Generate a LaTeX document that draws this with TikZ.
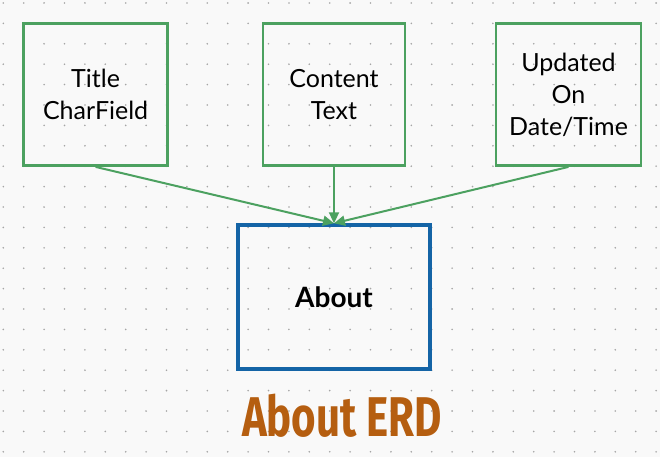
\documentclass[tikz,border=0pt]{standalone}
\usepackage{fontspec}
\setmainfont{Lato}
\newfontfamily\titlefont{Fira Sans}
\usetikzlibrary{arrows.meta}
\definecolor{fieldgreen}{RGB}{76,161,96}
\definecolor{entityblue}{RGB}{20,100,166}
\definecolor{erdbrown}{RGB}{181,94,16}
\definecolor{dotgray}{RGB}{165,165,165}
\definecolor{paper}{RGB}{249,249,249}
\begin{document}
\begin{tikzpicture}[x=1pt, y=-1pt]
				\tikzstyle{Field} = [rectangle, draw=fieldgreen, line width=2.6pt, minimum height=142pt, align=center, font=\fontsize{25}{32}\selectfont]
				\tikzstyle{Entity} = [rectangle, draw=entityblue, line width=3.4pt, minimum width=192pt, minimum height=144pt, font=\fontsize{28}{32}\selectfont\bfseries]
				\tikzstyle{Link} = [draw=fieldgreen, line width=2pt, -{Triangle[length=11pt, width=10pt]}]
				\fill[paper] (0,0) rectangle (660,457);
				\useasboundingbox (0,0) rectangle (660,457);
				\foreach \i in {0,...,32}
					\foreach \j in {0,...,22}
						\fill[dotgray] (3.3+20.4*\i, 3+20.4*\j) circle (0.9);
				\node (title) at (95.6,94.6) [Field, minimum width=144pt] {Title\\CharField};
				\node (content) at (334,94.6) [Field, minimum width=142pt] {Content\\Text};
				\node (updated) at (568.5,94.6) [Field, minimum width=145pt] {Updated\\On\\Date/Time};
				\node (about) at (334,297) [Entity] {About};
				\node (caption) at (342,416) [text=erdbrown, font=\titlefont\fontsize{56}{56}\selectfont\bfseries] {\scalebox{0.75}[1]{About ERD}};
				\draw[Link] (title.south) to (about.north);
				\draw[Link] (content.south) to (about.north);
				\draw[Link] (updated.south) to (about.north);
\end{tikzpicture}
\end{document}
